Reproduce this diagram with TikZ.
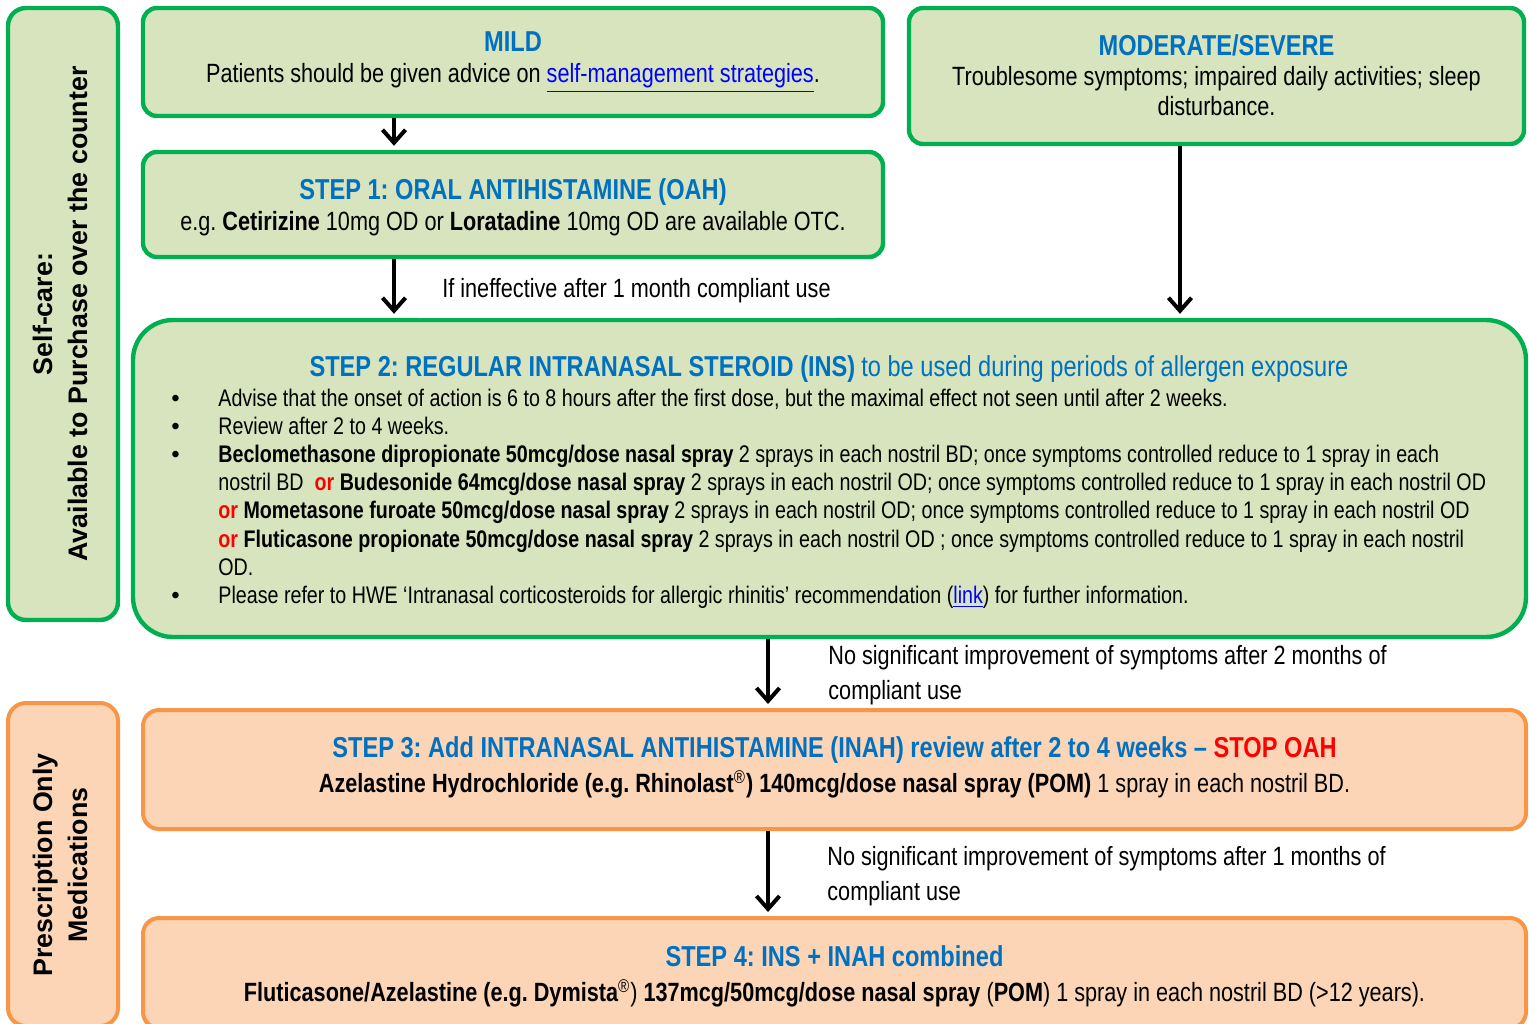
\documentclass[tikz,border=0pt]{standalone}
\usepackage{fontspec}
\setmainfont{Liberation Sans}[FakeStretch=0.82]
\newfontfamily\sidefont{Liberation Sans}
\usetikzlibrary{arrows.meta,positioning,calc}
\definecolor{boxgreen}{RGB}{0,176,80}
\definecolor{fillgreen}{RGB}{215,228,189}
\definecolor{boxorange}{RGB}{247,150,70}
\definecolor{fillorange}{RGB}{251,213,181}
\definecolor{titleblue}{RGB}{0,112,192}
\definecolor{linkblue}{RGB}{0,0,255}
\definecolor{stopred}{RGB}{255,0,0}
\frenchspacing
\newcommand{\steptitle}[1]{{\fontsize{14.4}{17}\selectfont\bfseries\color{titleblue}#1}}
\newcommand{\redor}{\textcolor{stopred}{\textbf{or}}}
\newcommand{\dotitem}{{\sidefont\textbullet}}

\begin{document}
\begin{tikzpicture}[x=0.5pt,y=-0.5pt]
\tikzstyle{gbox}=[draw=boxgreen, fill=fillgreen, line width=2.2pt, rounded corners=7pt, inner sep=0pt]
\tikzstyle{obox}=[draw=boxorange, fill=fillorange, line width=2pt, rounded corners=8pt, inner sep=0pt]
\tikzstyle{txt}=[align=center, inner sep=0pt, font=\fontsize{13.2}{15.5}\selectfont]
\tikzstyle{side}=[align=center, inner sep=0pt, rotate=90, font=\sidefont\bfseries\fontsize{13.4}{17.5}\selectfont]
\tikzstyle{note}=[align=left, inner sep=0pt, anchor=west, font=\fontsize{13.2}{17.5}\selectfont]
\tikzstyle{arr}=[-{Straight Barb[length=6.5pt,width=11.5pt]}, line width=2pt]
\useasboundingbox (0,0) rectangle (1529,1023);
\clip (0,0) rectangle (1529,1023);

% left hand bands
\node[gbox, rounded corners=9pt, minimum width=55pt, minimum height=306pt] (selfcare) at (63,314) {};
\node[side] (selfcaretxt) at (60,314) {Self-care:\\Available to Purchase over the counter};
\node[obox, rounded corners=9pt, minimum width=55pt, minimum height=161.5pt] (presc) at (63,864.5) {};
\node[side] (presctxt) at (60,865) {Prescription Only\\Medications};

% boxes
\node[gbox, minimum width=370pt, minimum height=54pt] (mild) at (513,62) {};
\node[txt] (mildtxt) at (513,62) {\steptitle{MILD}\\Patients should be given advice on \textcolor{linkblue}{\underline{self-management strategies}}.};

\node[gbox, minimum width=307.5pt, minimum height=68pt] (moderate) at (1216.5,76) {};
\node[txt, font=\fontsize{13.2}{15}\selectfont] (moderatetxt) at (1216.5,75) {\steptitle{MODERATE/SEVERE}\\Troublesome symptoms; impaired daily activities; sleep\\disturbance.};

\node[gbox, minimum width=370pt, minimum height=52.5pt] (step1) at (513,204.5) {};
\node[txt] (step1txt) at (513,207) {\steptitle{STEP 1: ORAL ANTIHISTAMINE (OAH)}\\e.g. \textbf{Cetirizine} 10mg OD or \textbf{Loratadine} 10mg OD are available OTC.};

\node[gbox, rounded corners=20pt, minimum width=696.5pt, minimum height=158.5pt] (step2) at (829.5,478.5) {};
\node[txt] (step2title) at (829,369) {\steptitle{STEP 2: REGULAR INTRANASAL STEROID (INS)} {\fontsize{14.4}{17}\selectfont\color{titleblue}to be used during periods of allergen exposure}};
\node[anchor=north west, inner sep=0pt, font=\fontsize{12}{14.1}\selectfont] (step2body) at (171,386) {%
\begin{tabular}{@{}p{23.5pt}@{}l@{}}
\dotitem & Advise that the onset of action is 6 to 8 hours after the first dose, but the maximal effect not seen until after 2 weeks.\\
\dotitem & Review after 2 to 4 weeks.\\
\dotitem & \textbf{Beclomethasone dipropionate 50mcg/dose nasal spray} 2 sprays in each nostril BD; once symptoms controlled reduce to 1 spray in each\\
 & nostril BD \ \redor{} \textbf{Budesonide 64mcg/dose nasal spray} 2 sprays in each nostril OD; once symptoms controlled reduce to 1 spray in each nostril OD\\
 & \redor{} \textbf{Mometasone furoate 50mcg/dose nasal spray} 2 sprays in each nostril OD; once symptoms controlled reduce to 1 spray in each nostril OD\\
 & \redor{} \textbf{Fluticasone propionate 50mcg/dose nasal spray} 2 sprays in each nostril OD ; once symptoms controlled reduce to 1 spray in each nostril\\
 & OD.\\
\dotitem & Please refer to HWE ‘Intranasal corticosteroids for allergic rhinitis’ recommendation (\textcolor{linkblue}{\underline{link}}) for further information.
\end{tabular}};

\node[obox, minimum width=691.5pt, minimum height=59.5pt] (step3) at (834.5,769.5) {};
\node[txt, font=\fontsize{13.2}{17.5}\selectfont] (step3txt) at (834.5,767) {\steptitle{STEP 3: Add INTRANASAL ANTIHISTAMINE (INAH) review after 2 to 4 weeks -- \textcolor{stopred}{STOP OAH}}\\\textbf{Azelastine Hydrochloride (e.g. Rhinolast}\textsuperscript{®}\textbf{) 140mcg/dose nasal spray (POM)} 1 spray in each nostril BD.};

\node[obox, minimum width=691.5pt, minimum height=55pt] (step4) at (834.5,973) {};
\node[txt, font=\fontsize{13.2}{17.5}\selectfont] (step4txt) at (834.5,976) {\steptitle{STEP 4: INS + INAH combined}\\\textbf{Fluticasone/Azelastine (e.g. Dymista}\textsuperscript{®}) \textbf{137mcg/50mcg/dose nasal spray} (\textbf{POM}) 1 spray in each nostril BD (>12 years).};

% connector labels
\node[inner xsep=2pt, inner ysep=0pt, fill=white, text width=204.5pt, align=flush right, text height=13pt, text depth=10pt, anchor=south east, font=\fontsize{13.2}{15}\selectfont] (ineffective) at (835,318) {If ineffective after 1 month compliant use};
\node[note] (noimp2) at (828,675.5) {No significant improvement of symptoms after 2 months of\\compliant use};
\node[note] (noimp1) at (827,876.5) {No significant improvement of symptoms after 1 months of\\compliant use};

% arrows
\coordinate (colA) at (394,0);
\coordinate (colB) at (1180,0);
\coordinate (colC) at (768,0);
\draw[arr] (mild.south -| colA) -- ([yshift=2pt]step1.north -| colA);
\draw[arr] (step1.south -| colA) -- ([yshift=2pt]step2.north -| colA);
\draw[arr] (moderate.south -| colB) -- ([yshift=2pt]step2.north -| colB);
\draw[arr] (step2.south -| colC) -- ([yshift=2pt]step3.north -| colC);
\draw[arr] (step3.south -| colC) -- ([yshift=2pt]step4.north -| colC);
\end{tikzpicture}
\end{document}
